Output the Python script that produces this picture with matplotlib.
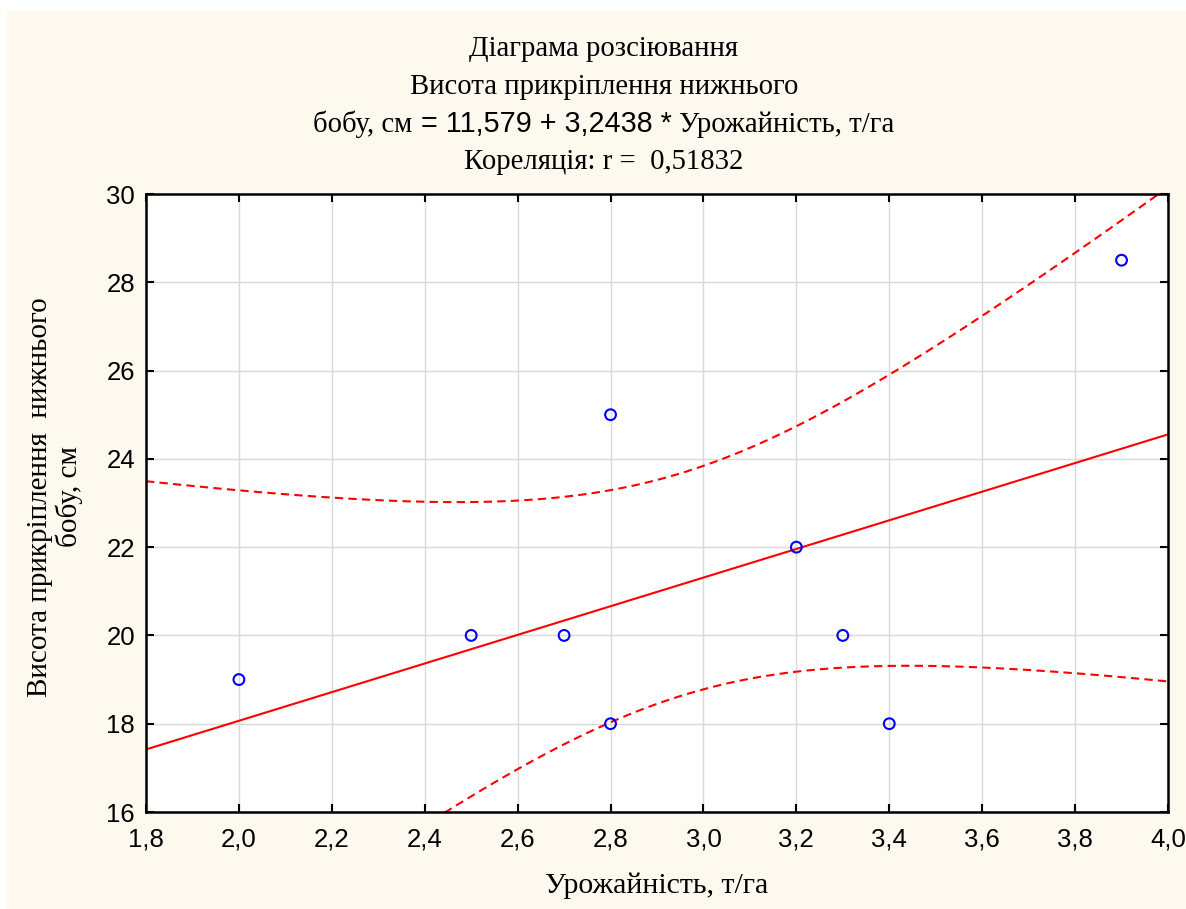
import numpy as np
import matplotlib
matplotlib.use("Agg")
import matplotlib.pyplot as plt
from matplotlib.patches import Rectangle

# дані: урожайність (т/га) та висота прикріплення нижнього бобу (см)
yield_t = [2.0, 2.5, 2.7, 2.8, 2.8, 3.2, 3.3, 3.4, 3.9]
height_cm = [19.0, 20.0, 20.0, 25.0, 18.0, 22.0, 20.0, 18.0, 28.5]

intercept = 11.579
slope = 3.2438
t_crit = 2.3646  # t(0.975, df=7)

x_ticks = [1.8, 2.0, 2.2, 2.4, 2.6, 2.8, 3.0, 3.2, 3.4, 3.6, 3.8, 4.0]
y_ticks = [16, 18, 20, 22, 24, 26, 28, 30]

title_lines = ["Діаграма розсіювання", "Висота прикріплення нижнього"]
eq_parts = [("бобу, см", "serif"), (" = 11,579 + 3,2438 * ", "sans"), ("Урожайність, т/га", "serif")]
corr_text = "Кореляція: r =  0,51832"
x_label = "Урожайність, т/га"
y_label = "Висота прикріплення  нижнього\nбобу, см"

SERIF = ["Liberation Serif", "DejaVu Serif"]
SANS = ["Liberation Sans", "DejaVu Sans"]
CREAM = "#fdf9ef"
FS_TITLE = 20.7

x = np.array(yield_t)
y = np.array(height_cm)

# довірчий інтервал 95% для лінії регресії
xs = np.linspace(1.8, 4.0, 300)
fit = intercept + slope * xs
resid = y - (intercept + slope * x)
s = np.sqrt(np.sum(resid ** 2) / (len(x) - 2))
sxx = np.sum((x - x.mean()) ** 2)
half = t_crit * s * np.sqrt(1 / len(x) + (xs - x.mean()) ** 2 / sxx)

W, H = 1186, 909
fig = plt.figure(figsize=(W / 100, H / 100), dpi=100, facecolor="white")
fig.patches.append(Rectangle((7 / W, 0), 1 - 7 / W, 1 - 11 / H,
                             transform=fig.transFigure, facecolor=CREAM,
                             edgecolor="none", zorder=-10))

ax = fig.add_axes([146 / W, 1 - 812 / H, (1168 - 146) / W, (812 - 194) / H])
ax.set_facecolor("white")
ax.set_xlim(1.8, 4.0)
ax.set_ylim(16, 30)
ax.set_xticks(x_ticks)
ax.set_yticks(y_ticks)
ax.set_xticklabels([f"{v:.1f}".replace(".", ",") for v in x_ticks], fontfamily=SANS, fontsize=18.5)
ax.set_yticklabels([str(v) for v in y_ticks], fontfamily=SANS, fontsize=18.5)
ax.tick_params(direction="in", length=6, width=1.5, top=True, right=True)
ax.tick_params(axis="x", pad=11)
ax.tick_params(axis="y", pad=8)
ax.grid(True, color="#d9d9d9", linewidth=1)
ax.set_axisbelow(True)
for sp in ax.spines.values():
    sp.set_linewidth(1.8)

ax.plot(xs, fit, color="red", linewidth=1.5)
ax.plot(xs, fit + half, color="red", linewidth=1.5, dashes=(4, 2.5))
ax.plot(xs, fit - half, color="red", linewidth=1.5, dashes=(4, 2.5))
ax.scatter(x, y, s=60, facecolors="none", edgecolors="blue", linewidths=1.5, zorder=3)

ax_cx = (146 + 1168) / 2 / W
cy = 1 - (194 + 812) / 2 / H
tx = 604 / W

# підписи осей
fig.text(ax_cx, 1 - 893 / H, x_label, ha="center", va="baseline", fontfamily=SERIF, fontsize=21.5)
fig.text(55 / W, 1 - 497 / H, y_label, ha="center", va="center", rotation=90, multialignment="center",
         fontfamily=SERIF, fontsize=21, linespacing=1.1)

# заголовок
fig.text(tx, 1 - 56 / H, title_lines[0], ha="center", va="baseline", fontfamily=SERIF, fontsize=FS_TITLE)
fig.text(tx, 1 - 94 / H, title_lines[1], ha="center", va="baseline", fontfamily=SERIF, fontsize=FS_TITLE)
fig.text(tx, 1 - 169 / H, corr_text, ha="center", va="baseline", fontfamily=SERIF, fontsize=FS_TITLE)

renderer = fig.canvas.get_renderer()
parts = []
for txt, fam in eq_parts:
    t = fig.text(0, 1 - 132 / H, txt, ha="left", va="baseline",
                 fontfamily=SERIF if fam == "serif" else SANS, fontsize=FS_TITLE)
    parts.append(t)
widths = [p.get_window_extent(renderer).width / fig.bbox.width for p in parts]
pos = tx - sum(widths) / 2
for p, w in zip(parts, widths):
    p.set_x(pos)
    pos += w

fig.savefig("out.png", dpi=100, facecolor=fig.get_facecolor())
